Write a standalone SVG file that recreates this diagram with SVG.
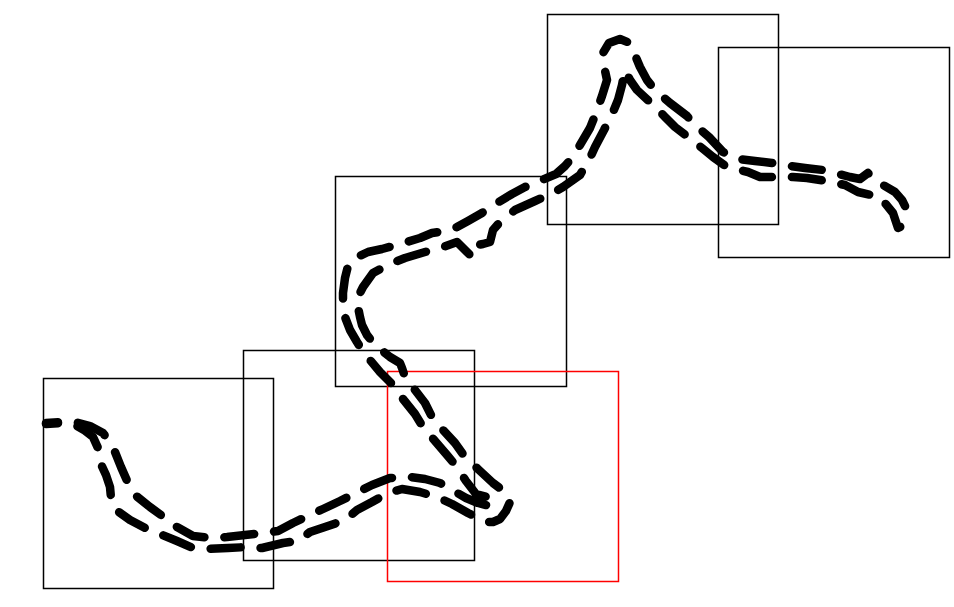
<svg xmlns="http://www.w3.org/2000/svg" width="954" height="607" viewBox="0 0 954 607">
<style>
.box{fill:none;stroke:#000;stroke-width:1.5}
.red{fill:none;stroke:#ff0000;stroke-width:1.5}
.track{fill:none;stroke:#000;stroke-width:8.5;stroke-linecap:round;stroke-linejoin:round;stroke-dasharray:30 20;stroke-dashoffset:18}
</style>
<rect width="954" height="607" fill="#fff"/>
<g id="frames">
<g id="frame1"><rect class="box" x="43.5" y="378.5" width="230" height="210"/></g>
<g id="frame2"><rect class="box" x="243.5" y="350.5" width="231" height="210"/></g>
<g id="frame3"><rect class="box" x="335.5" y="176.5" width="231" height="210"/></g>
<g id="frame4"><rect class="box" x="547.5" y="14.5" width="231" height="210"/></g>
<g id="frame5"><rect class="box" x="718.5" y="47.5" width="231" height="210"/></g>
<g id="frame6"><rect class="red" x="387.5" y="371.5" width="231" height="210"/></g>
</g>
<g id="tracks">
<polyline id="track1" class="track" points="46,423 62,422 75,422 90,426 103,433 109,441 115,452 121,467 128,483 135,495 150,507 165,518 177,527 193,536 212,538 227,537 245,535 263,533 278,531 293,523 310,515 323,509 340,501 358,492 372,485 390,478 410,477 425,479 440,483 452,490 466,498 478,503 490,506 494,501 487,497 476,494 466,481 457,467 447,455 435,441 423,427 415,414 403,399 392,384 380,372 370,360 362,350 357,342 350,330 345,317 343,305 343,293 345,278 348,266 355,258 368,252 382,249 400,244 420,238 432,233 445,231 457,227 468,221 482,213 497,203 512,194 525,187 542,180 556,174 565,166 572,158 580,145 590,128 596,113 602,96 607,80 604,66 603,53 609,43 620,39 630,43 635,55 640,67 647,80 655,90 670,103 687,116 695,125 709,137 723,152 738,159 755,161 772,163 790,166 805,168 823,170 835,173 850,177 860,179 868,173 874,178 878,182 895,192 902,200 907,210"/>
<polyline id="track2" class="track" points="46,424 62,423 75,425 84,430 93,437 98,448 100,462 106,475 110,487 111,498 116,510 130,520 145,528 160,534 177,541 193,548 208,549 228,548 248,547 262,548 283,543 298,541 310,532 328,526 345,520 357,510 372,502 388,493 402,489 420,492 437,497 452,504 468,513 485,522 493,522 500,519 506,511 510,502 505,492 493,483 479,470 465,457 455,443 443,430 432,417 425,403 415,390 405,377 402,368 400,363 390,357 375,345 367,335 362,325 360,317 357,302 360,293 363,287 373,273 392,263 405,258 425,252 443,247 457,242 472,257 477,245 483,244 490,242 493,230 500,222 515,210 535,201 553,193 563,187 580,175 590,158 595,147 604,130 613,112 618,100 622,85 625,70 630,80 637,90 651,103 665,117 675,127 688,137 702,148 713,157 727,167 748,172 760,177 777,177 793,177 807,178 826,181 845,185 858,192 880,197 893,213 898,228 910,222"/>
</g>
</svg>
